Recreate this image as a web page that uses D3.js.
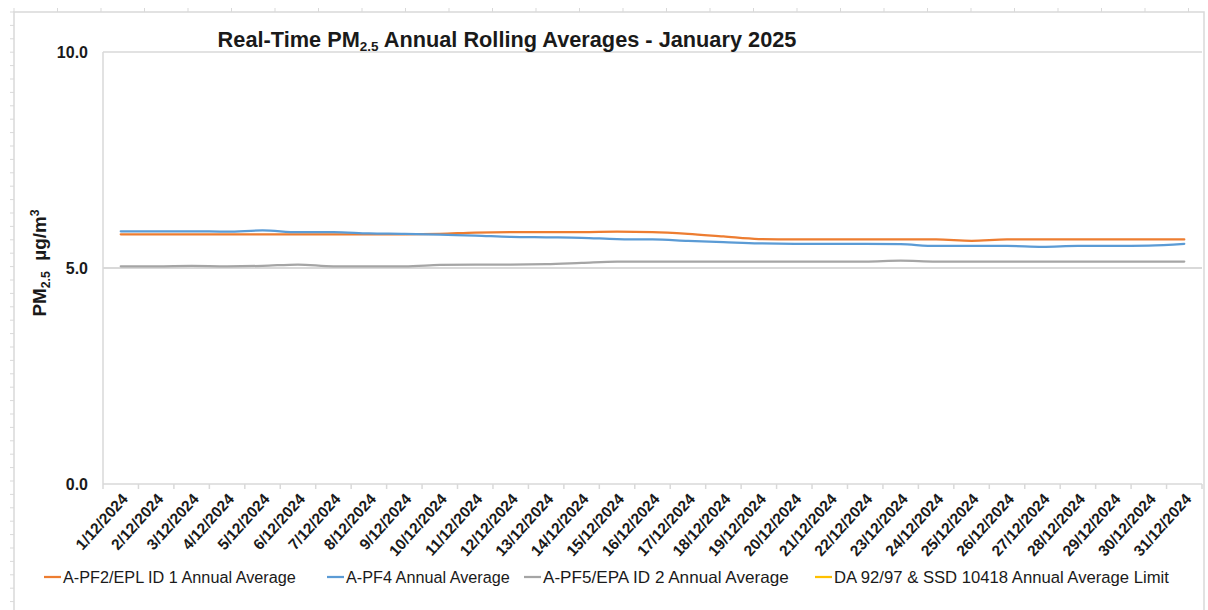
<!DOCTYPE html>
<html>
<head>
<meta charset="utf-8">
<script src="https://cdn.jsdelivr.net/npm/d3@7"></script>
<style>
  html, body { margin: 0; padding: 0; background: #fff; }
  svg { display: block; }
</style>
</head>
<body>
<svg id="chart" width="1208" height="610"></svg>
<script>
// ---------- data ----------
const categories = [
  "1/12/2024","2/12/2024","3/12/2024","4/12/2024","5/12/2024","6/12/2024","7/12/2024",
  "8/12/2024","9/12/2024","10/12/2024","11/12/2024","12/12/2024","13/12/2024","14/12/2024",
  "15/12/2024","16/12/2024","17/12/2024","18/12/2024","19/12/2024","20/12/2024","21/12/2024",
  "22/12/2024","23/12/2024","24/12/2024","25/12/2024","26/12/2024","27/12/2024","28/12/2024",
  "29/12/2024","30/12/2024","31/12/2024"
];
const pf2Values = [5.78,5.78,5.78,5.78,5.78,5.78,5.78,5.78,5.78,5.79,5.82,5.83,5.83,5.83,5.84,5.83,
                   5.79,5.73,5.67,5.66,5.66,5.66,5.66,5.66,5.63,5.66,5.66,5.66,5.66,5.66,5.66];
const pf4Values = [5.85,5.85,5.85,5.84,5.87,5.83,5.83,5.80,5.79,5.77,5.75,5.72,5.71,5.70,5.67,5.66,
                   5.63,5.60,5.57,5.56,5.56,5.56,5.55,5.51,5.51,5.51,5.49,5.51,5.51,5.52,5.56];
const pf5Values = [5.04,5.04,5.05,5.04,5.05,5.08,5.04,5.04,5.04,5.07,5.08,5.08,5.09,5.12,5.15,5.15,
                   5.15,5.15,5.15,5.15,5.15,5.15,5.17,5.15,5.15,5.15,5.15,5.15,5.15,5.15,5.15];
const seriesNames = [
  "A-PF2/EPL ID 1 Annual Average",
  "A-PF4 Annual Average",
  "A-PF5/EPA ID 2 Annual Average",
  "DA 92/97 & SSD 10418 Annual Average Limit"
];
const seriesColors = ["#ED7D31", "#5B9BD5", "#A5A5A5", "#FFC000"];
const yTicks = [0, 5, 10];

// ---------- setup ----------
const svg = d3.select("#chart");
const FONT = "'Liberation Sans', Arial, sans-serif";
const GRID = "#d9d9d9";
const TXT = "#1a1a1a";

function fitWidth(sel, target) {
  const w = sel.node().getComputedTextLength();
  const fs = parseFloat(sel.attr("font-size"));
  if (w > 0) sel.attr("font-size", fs * target / w);
}

// outer frame with small ruler ticks
const frame = svg.append("g").attr("stroke", GRID).attr("fill", "none");
frame.append("path").attr("d", "M14,610 V12 H1204 V610").attr("stroke-width", 1.5);
frame.selectAll(".lt").data(d3.range(12, 610, 13.4)).join("line")
  .attr("x1", 10).attr("x2", 14).attr("y1", d => d).attr("y2", d => d).attr("stroke-width", 1);
frame.selectAll(".tt").data(d3.range(14, 1204, 43.5)).join("line")
  .attr("y1", 8).attr("y2", 12).attr("x1", d => d).attr("x2", d => d).attr("stroke-width", 1);

const x = d3.scaleBand().domain(categories).range([103, 1202]).paddingInner(0).paddingOuter(0);
const y = d3.scaleLinear().domain([0, 10]).range([484, 52]);
const bw = x.bandwidth();

// gridlines
svg.append("g").selectAll("line").data(yTicks.filter(t => t > 0)).join("line")
  .attr("x1", x.range()[0]).attr("x2", x.range()[1])
  .attr("y1", d => y(d)).attr("y2", d => y(d))
  .attr("stroke", GRID).attr("stroke-width", d => d === 5 ? 2 : 1.5);

// left plot border
svg.append("line").attr("x1", 103).attr("x2", 103).attr("y1", y(10)).attr("y2", y(0))
  .attr("stroke", GRID).attr("stroke-width", 1.5);

// y axis labels
const yAxis = svg.append("g").attr("transform", "translate(103,0)")
  .call(d3.axisLeft(y).tickValues(yTicks).tickSize(0).tickPadding(15).tickFormat(d3.format(".1f")));
yAxis.select(".domain").remove();
yAxis.selectAll("text").attr("font-family", FONT).attr("font-weight", "bold")
  .attr("font-size", 16).attr("fill", TXT).attr("dy", "0.36em");

// x axis
const xAxisG = svg.append("g").attr("transform", "translate(0,484)");
xAxisG.append("line").attr("x1", x.range()[0]).attr("x2", x.range()[1])
  .attr("stroke", GRID).attr("stroke-width", 1.5);
xAxisG.selectAll(".tk").data(categories).join("line")
  .attr("x1", d => x(d)).attr("x2", d => x(d)).attr("y1", 0).attr("y2", 5)
  .attr("stroke", GRID).attr("stroke-width", 1.5);
xAxisG.append("line").attr("x1", x.range()[1]).attr("x2", x.range()[1]).attr("y1", 0).attr("y2", 5)
  .attr("stroke", GRID).attr("stroke-width", 1.5);
xAxisG.selectAll(".lbl").data(categories).join("text")
  .attr("transform", d => `translate(${x(d) + bw / 2 + 4},12) rotate(-48)`)
  .attr("text-anchor", "end").attr("dy", "0.35em")
  .attr("font-family", FONT).attr("font-weight", "bold").attr("font-size", 15.5)
  .attr("fill", TXT).text(d => d);

// lines
const lineGen = d3.line()
  .x((d, i) => x(categories[i]) + bw / 2)
  .y(d => y(d))
  .curve(d3.curveMonotoneX);
const drawn = [pf2Values, pf4Values, pf5Values];
svg.append("g").selectAll("path").data(drawn).join("path")
  .attr("d", d => lineGen(d))
  .attr("fill", "none")
  .attr("stroke", (d, i) => seriesColors[i])
  .attr("stroke-width", 2.25)
  .attr("stroke-linejoin", "round")
  .attr("stroke-linecap", "round");

// title
const title = svg.append("text").attr("x", 507).attr("y", 47).attr("text-anchor", "middle")
  .attr("font-family", FONT).attr("font-weight", "bold").attr("font-size", 20).attr("fill", TXT);
title.append("tspan").text("Real-Time PM");
title.append("tspan").attr("font-size", "0.62em").attr("dy", "0.3em").text("2.5");
title.append("tspan").attr("dy", "-0.19em").text(" Annual Rolling Averages - January 2025");
fitWidth(title, 579);

// y-axis title
const yt = svg.append("text").attr("transform", "translate(46,263) rotate(-90)")
  .attr("text-anchor", "middle")
  .attr("font-family", FONT).attr("font-weight", "bold").attr("font-size", 16).attr("fill", TXT);
yt.append("tspan").text("PM");
yt.append("tspan").attr("font-size", "0.65em").attr("dy", "0.3em").text("2.5");
yt.append("tspan").attr("dy", "-0.195em").text("\u00a0\u00a0µg/m");
yt.append("tspan").attr("font-size", "0.65em").attr("dy", "-0.55em").text("3");
fitWidth(yt, 107);

// legend
const legX = [44, 327, 524, 815];
const legW = [233, 164, 246, 335];
const leg = svg.append("g").selectAll("g").data(seriesNames).join("g")
  .attr("transform", (d, i) => `translate(${legX[i]},577)`);
leg.append("line").attr("x1", 0).attr("x2", 17).attr("y1", 0).attr("y2", 0)
  .attr("stroke", (d, i) => seriesColors[i]).attr("stroke-width", 2.25);
leg.append("text").attr("x", 19).attr("dy", "0.35em")
  .attr("font-family", FONT).attr("font-size", 15).attr("fill", TXT).text(d => d)
  .each(function (d, i) { fitWidth(d3.select(this), legW[i]); });
</script>
</body>
</html>
